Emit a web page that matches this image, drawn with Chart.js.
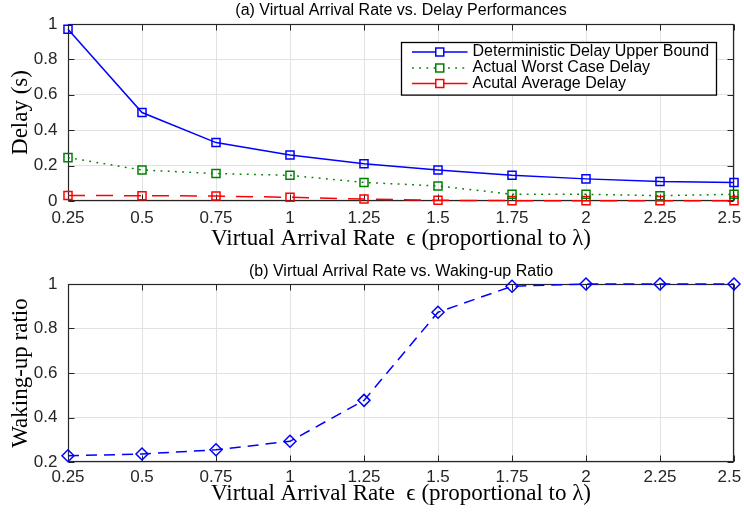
<!DOCTYPE html>
<html>
<head>
<meta charset="utf-8">
<script src="https://cdn.jsdelivr.net/npm/chart.js@4/dist/chart.umd.min.js"></script>
<style>
  html, body { margin: 0; padding: 0; background: #fff; }
  #wrap { position: relative; width: 744px; height: 514px; }
  #wrap canvas { position: absolute; left: 0; }
</style>
</head>
<body>
<div id="wrap">
  <canvas id="delayChart" width="744" height="257" style="top:0"></canvas>
  <canvas id="ratioChart" width="744" height="257" style="top:257px"></canvas>
</div>
<script>
// Virtual arrival rate (x axis, proportional to lambda)
const rates = [0.25, 0.5, 0.75, 1, 1.25, 1.5, 1.75, 2, 2.25, 2.5];
const xTickLabels = ['0.25', '0.5', '0.75', '1', '1.25', '1.5', '1.75', '2', '2.25', '2.5'];

// Delay in seconds
const upperBound   = [0.97, 0.50, 0.33, 0.26, 0.21, 0.175, 0.145, 0.125, 0.11, 0.105];
const worstCase    = [0.245, 0.175, 0.155, 0.145, 0.105, 0.085, 0.038, 0.038, 0.03, 0.038];
const averageDelay = [0.031, 0.03, 0.028, 0.021, 0.011, 0.004, 0.002, 0.002, 0.002, 0.002];
const delayTickLabels = ['0', '0.2', '0.4', '0.6', '0.8', '1'];

// Waking-up ratio
const wakingRatio = [0.228, 0.236, 0.255, 0.293, 0.477, 0.873, 0.99, 1.0, 1.0, 1.0];
const ratioTickLabels = ['0.2', '0.4', '0.6', '0.8', '1'];

const SANS = "'Liberation Sans', Arial, Helvetica, sans-serif";
const SERIF = "'Liberation Serif', 'Times New Roman', serif";
const AXIS_COLOR = '#262626';
const GRID_COLOR = '#e2e2e2';

// Box around the axes with short inward tick marks on all four sides
const axesFrame = {
  id: 'axesFrame',
  beforeDatasetsDraw(chart) {
    const { ctx, chartArea: a, scales } = chart;
    const L = Math.round(a.left) + 0.5, R = Math.round(a.right) - 0.5;
    const T = Math.round(a.top) + 0.5, B = Math.round(a.bottom) - 0.5;
    const len = 6;
    ctx.save();
    ctx.strokeStyle = AXIS_COLOR;
    ctx.lineWidth = 1;
    ctx.beginPath();
    scales.x.ticks.forEach(t => {
      const px = Math.round(scales.x.getPixelForValue(t.value)) + 0.5;
      ctx.moveTo(px, B); ctx.lineTo(px, B - len);
      ctx.moveTo(px, T); ctx.lineTo(px, T + len);
    });
    scales.y.ticks.forEach(t => {
      const py = Math.round(scales.y.getPixelForValue(t.value)) + 0.5;
      ctx.moveTo(L, py); ctx.lineTo(L + len, py);
      ctx.moveTo(R, py); ctx.lineTo(R - len, py);
    });
    ctx.stroke();
    ctx.lineWidth = 1.2;
    ctx.strokeRect(L, T, R - L, B - T);
    ctx.restore();
  }
};

// Boxed legend in the upper right of the axes, each entry showing line style and marker
const boxLegend = {
  id: 'boxLegend',
  afterDraw(chart, args, opts) {
    const { ctx, chartArea: a } = chart;
    const w = opts.width, h = opts.height;
    const x0 = Math.round(a.right - opts.right - w) + 0.5;
    const y0 = Math.round(a.top + opts.top) + 0.5;
    ctx.save();
    ctx.fillStyle = '#fff';
    ctx.fillRect(x0, y0, w, h);
    ctx.strokeStyle = '#000';
    ctx.lineWidth = 1.3;
    ctx.strokeRect(x0, y0, w, h);
    chart.data.datasets.forEach((ds, i) => {
      const cy = y0 + opts.rows[i];
      ctx.strokeStyle = ds.borderColor;
      ctx.lineWidth = ds.borderWidth;
      ctx.setLineDash(ds.legendDash || []);
      ctx.beginPath();
      ctx.moveTo(x0 + opts.lineStart, cy);
      ctx.lineTo(x0 + opts.lineEnd, cy);
      ctx.stroke();
      ctx.setLineDash([]);
      const mx = x0 + (opts.lineStart + opts.lineEnd) / 2;
      const s = 8;
      ctx.lineWidth = ds.pointBorderWidth;
      ctx.fillStyle = '#fff';
      ctx.fillRect(mx - s / 2, cy - s / 2, s, s);
      ctx.strokeRect(mx - s / 2, cy - s / 2, s, s);
      ctx.fillStyle = '#000';
      ctx.font = '16px ' + SANS;
      ctx.textBaseline = 'middle';
      ctx.textAlign = 'left';
      ctx.fillText(ds.label, x0 + opts.textStart, cy);
    });
    ctx.restore();
  }
};

function xScale(axisHeight, titlePad, tickPad) {
  return {
    type: 'linear',
    min: 0.25,
    max: 2.5,
    border: { display: false },
    grid: { color: GRID_COLOR, lineWidth: 1, drawTicks: false },
    ticks: {
      stepSize: 0.25,
      autoSkip: false,
      maxRotation: 0,
      padding: tickPad,
      color: AXIS_COLOR,
      font: { family: SANS, size: 17 },
      // the last label is nudged left so it stays inside the figure
      callback: (v, i) => i === xTickLabels.length - 1 ? xTickLabels[i] + '\u00a0\u00a0' : xTickLabels[i]
    },
    title: {
      display: true,
      text: 'Virtual Arrival Rate  \u03F5 (proportional to \u03BB)',
      color: '#000',
      font: { family: SERIF, size: 23 },
      padding: { top: 0, bottom: titlePad }
    },
    afterFit(scale) {
      scale.height = axisHeight;
      scale.paddingLeft = 0;
      scale.paddingRight = 0;
    }
  };
}

function yScale(min, max, labels, titleText) {
  return {
    type: 'linear',
    min: min,
    max: max,
    border: { display: false },
    grid: { color: GRID_COLOR, lineWidth: 1, drawTicks: false },
    ticks: {
      stepSize: 0.2,
      padding: 10.5,
      color: AXIS_COLOR,
      font: { family: SANS, size: 17 },
      callback: (v, i) => labels[i]
    },
    title: {
      display: true,
      text: titleText,
      color: '#000',
      font: { family: SERIF, size: 23 },
      padding: { top: 7, bottom: 0 }
    },
    afterFit(scale) {
      scale.width = 68;
      scale.paddingTop = 0;
      scale.paddingBottom = 0;
    }
  };
}

function series(label, values, color, dash, legendDash, style, radius) {
  return {
    label: label,
    data: rates.map((r, i) => ({ x: r, y: values[i] })),
    borderColor: color,
    borderWidth: 1.5,
    borderDash: dash,
    legendDash: legendDash,
    pointStyle: style,
    pointRadius: radius,
    pointBorderWidth: 1.5,
    pointBorderColor: color,
    pointBackgroundColor: 'rgba(0,0,0,0)',
    tension: 0,
    clip: false
  };
}

new Chart(document.getElementById('delayChart'), {
  type: 'line',
  data: {
    datasets: [
      series('Deterministic Delay Upper Bound', upperBound, '#0000ff', [], [], 'rect', 5.7),
      series('Actual Worst Case Delay', worstCase, '#008000', [1.8, 5.4], [1.8, 5.4], 'rect', 5.7),
      series('Acutal Average Delay', averageDelay, '#ff0000', [17, 11], [], 'rect', 5.7)
    ]
  },
  options: {
    responsive: false,
    animation: false,
    layout: { padding: { left: 0, right: 10, top: 0, bottom: 0 } },
    scales: {
      x: xScale(56, 4.3, 7.5),
      y: yScale(0, 1, delayTickLabels, 'Delay (s)')
    },
    plugins: {
      legend: { display: false },
      tooltip: { enabled: false },
      title: {
        display: true,
        fullSize: false,
        text: '(a) Virtual Arrival Rate vs. Delay Performances',
        color: '#000',
        font: { family: SANS, size: 16, weight: 'normal' },
        padding: { top: 1.4, bottom: 3.4 }
      },
      boxLegend: {
        width: 315, height: 52.6, right: 18.3, top: 18,
        rows: [9.5, 25.5, 41], lineStart: 10.5, lineEnd: 66, textStart: 71
      }
    }
  },
  plugins: [axesFrame, boxLegend]
});

new Chart(document.getElementById('ratioChart'), {
  type: 'line',
  data: {
    datasets: [
      series('Waking-up ratio', wakingRatio, '#0000ff', [11, 7], [11, 7], 'rectRot', 6)
    ]
  },
  options: {
    responsive: false,
    animation: false,
    layout: { padding: { left: 0, right: 10, top: 0, bottom: 0 } },
    scales: {
      x: xScale(52, 6, 5),
      y: yScale(0.2, 1, ratioTickLabels, 'Waking-up ratio')
    },
    plugins: {
      legend: { display: false },
      tooltip: { enabled: false },
      title: {
        display: true,
        fullSize: false,
        text: '(b) Virtual Arrival Rate vs. Waking-up Ratio',
        color: '#000',
        font: { family: SANS, size: 16, weight: 'normal' },
        padding: { top: 5.1, bottom: 2.7 }
      }
    }
  },
  plugins: [axesFrame]
});
</script>
</body>
</html>
